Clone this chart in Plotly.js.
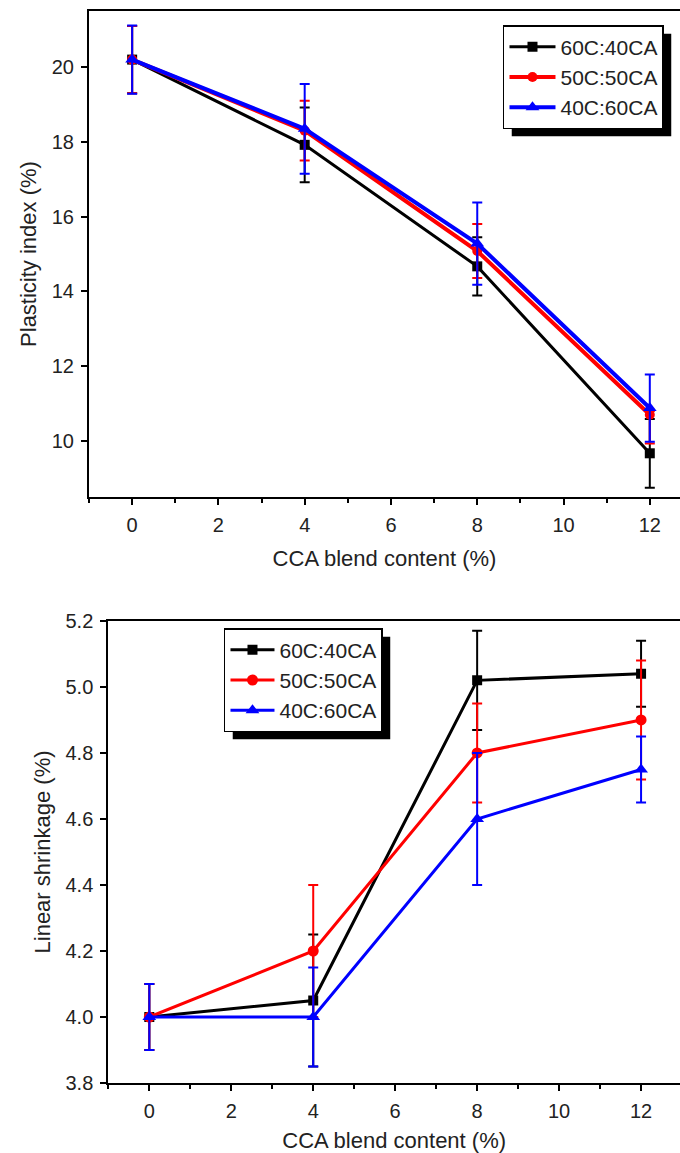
<!DOCTYPE html>
<html>
<head>
<meta charset="utf-8">
<script src="https://cdn.plot.ly/plotly-3.0.1.min.js"></script>
<style>
html,body{margin:0;padding:0;background:#fff;overflow:hidden;}
#chart{width:680px;height:1153px;}
</style>
</head>
<body>
<div id="chart"></div>
<script>
// ---- data ----
const blendContent = [0, 4, 8, 12];
const seriesNames = ["60C:40CA", "50C:50CA", "40C:60CA"];

const plasticity60 = [20.2, 17.92, 14.67, 9.67];
const plasticity60ErrUp = [0.9, 1.0, 0.78, 0.92];
const plasticity60ErrDown = [0.9, 1.0, 0.78, 0.92];
const plasticity50 = [20.2, 18.3, 15.08, 10.7];
const plasticity50ErrUp = [0.9, 0.8, 0.72, 0.1];
const plasticity50ErrDown = [0.9, 0.8, 0.72, 0.77];
const plasticity40 = [20.2, 18.35, 15.28, 10.88];
const plasticity40ErrUp = [0.91, 1.2, 1.1, 0.9];
const plasticity40ErrDown = [0.91, 1.2, 1.1, 0.9];

const shrink60 = [4.0, 4.05, 5.02, 5.04];
const shrink60ErrUp = [0.1, 0.2, 0.15, 0.1];
const shrink60ErrDown = [0.1, 0.2, 0.15, 0.1];
const shrink50 = [4.0, 4.2, 4.8, 4.9];
const shrink50ErrUp = [0.1, 0.2, 0.15, 0.18];
const shrink50ErrDown = [0.1, 0.2, 0.15, 0.18];
const shrink40 = [4.0, 4.0, 4.6, 4.75];
const shrink40ErrUp = [0.1, 0.15, 0.2, 0.1];
const shrink40ErrDown = [0.1, 0.15, 0.2, 0.1];

const xTickVals = [0, 2, 4, 6, 8, 10, 12];

// ---- styling ----
const colors = ["#000000", "#ff0000", "#0000ff"];
const symbols = ["square", "circle", "triangle-up"];
const FONT = "Liberation Sans, Arial, sans-serif";
const TXT = "#222";

function mk(y, up, down, i, xa, ya, leg, lw, ms) {
  return {
    x: blendContent, y: y, name: seriesNames[i],
    type: "scatter", mode: "lines+markers",
    xaxis: xa, yaxis: ya, legend: leg,
    line: {color: colors[i], width: lw},
    marker: {color: colors[i], symbol: symbols[i], size: ms},
    error_y: {type: "data", symmetric: false, array: up, arrayminus: down,
              visible: true, color: colors[i], thickness: 2, width: 5}
  };
}

const traces = [
  mk(plasticity60, plasticity60ErrUp, plasticity60ErrDown, 0, "x", "y", "legend", 3, 10),
  mk(plasticity50, plasticity50ErrUp, plasticity50ErrDown, 1, "x", "y", "legend", 4, 10),
  mk(plasticity40, plasticity40ErrUp, plasticity40ErrDown, 2, "x", "y", "legend", 4, 12),
  mk(shrink60, shrink60ErrUp, shrink60ErrDown, 0, "x2", "y2", "legend2", 3, 10),
  mk(shrink50, shrink50ErrUp, shrink50ErrDown, 1, "x2", "y2", "legend2", 3, 11),
  mk(shrink40, shrink40ErrUp, shrink40ErrDown, 2, "x2", "y2", "legend2", 3, 12)
];

const axBase = {
  showline: true, linewidth: 2, linecolor: "#000",
  ticks: "outside", tickwidth: 2, ticklen: 6, tickcolor: "#000",
  showgrid: false, zeroline: false, automargin: false,
  tickfont: {family: FONT, size: 20, color: TXT},
  ticklabelstandoff: 3
};
const titleFont = {family: FONT, size: 22, color: TXT};
const minorX = {dtick: 1, tick0: 0, ticks: "outside", ticklen: 4, tickwidth: 2, tickcolor: "#000"};

const layout = {
  width: 680, height: 1153,
  margin: {l: 89, r: 0, t: 11, b: 70},
  paper_bgcolor: "#fff", plot_bgcolor: "#fff",
  font: {family: FONT, color: TXT},
  showlegend: true,
  xaxis: Object.assign({}, axBase, {
    domain: [0, 1], anchor: "y", range: [-1, 12.7], mirror: true,
    tickvals: xTickVals, minor: minorX,
    title: {text: "CCA blend content (%)", font: titleFont, standoff: 16}
  }),
  yaxis: Object.assign({}, axBase, {
    domain: [0.5466, 1], anchor: "x", range: [8.5, 21.5], dtick: 2, tick0: 0,
    title: {text: "Plasticity index (%)", font: titleFont, standoff: 9}
  }),
  xaxis2: Object.assign({}, axBase, {
    domain: [0.0327, 1], anchor: "y2", range: [-1, 12.95], mirror: true,
    tickvals: xTickVals, minor: minorX,
    title: {text: "CCA blend content (%)", font: titleFont, standoff: 13}
  }),
  yaxis2: Object.assign({}, axBase, {
    domain: [0, 0.431], anchor: "x2", range: [3.8, 5.2], dtick: 0.2, tick0: 0, tickformat: ".1f",
    title: {text: "Linear shrinkage (%)", font: titleFont, standoff: 9}
  }),
  legend: {
    x: 0.7005, y: 0.98694, xanchor: "left", yanchor: "top",
    bgcolor: "#fff", bordercolor: "#000", borderwidth: 1.5,
    font: {family: FONT, size: 21, color: TXT},
    tracegroupgap: 0, itemwidth: 46
  },
  legend2: {
    x: 0.2284, y: 0.4244, xanchor: "left", yanchor: "top",
    bgcolor: "#fff", bordercolor: "#000", borderwidth: 1.5,
    font: {family: FONT, size: 21, color: TXT},
    tracegroupgap: 0, itemwidth: 44
  }
};

Plotly.newPlot("chart", traces, layout, {displayModeBar: false, staticPlot: true}).then(function (gd) {
  // legend drop shadows, measured from the rendered legend boxes
  const sz = gd._fullLayout._size;
  const root = gd.getBoundingClientRect();
  const shapes = [];
  gd.querySelectorAll(".infolayer > g").forEach(function (g) {
    const cls = g.getAttribute("class") || "";
    if (!/^legend\d*$/.test(cls)) return;
    const bg = g.querySelector("rect.bg");
    if (!bg) return;
    const r = bg.getBoundingClientRect();
    const off = 8;
    const px = function (v) { return (v - root.left - sz.l) / sz.w; };
    const py = function (v) { return 1 - (v - root.top - sz.t) / sz.h; };
    shapes.push({
      type: "rect", xref: "paper", yref: "paper", layer: "above",
      x0: px(r.left + off), x1: px(r.right + off),
      y0: py(r.top + off), y1: py(r.bottom + off),
      fillcolor: "#000", line: {width: 0}
    });
  });
  return Plotly.relayout(gd, {shapes: shapes});
});
</script>
</body>
</html>
